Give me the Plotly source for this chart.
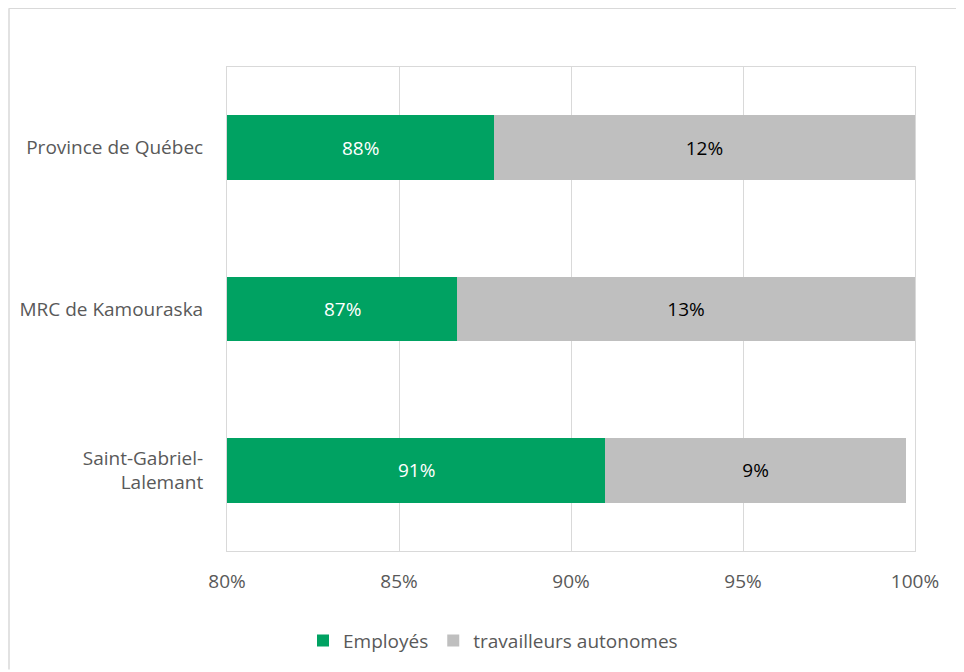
import plotly.graph_objects as go

categories = ["Province de Québec", "MRC de Kamouraska", "Saint-Gabriel-<br>Lalemant"]
employes = [87.76, 86.69, 90.99]
autonomes = [12.24, 13.31, 8.75]
tick_vals = [80, 85, 90, 95, 100]
tick_text = ["80%", "85%", "90%", "95%", "100%"]
axis_min, axis_max = 80, 100

FONT = "'Open Sans', sans-serif"
FS = 19
OFF = 8  # page body margin
W, H = 964 - OFF, 672 - OFF
ML, MT = 227 - OFF, 67 - OFF
MR, MB = 964 - 915, 672 - 553
pw, ph = W - ML - MR, H - MT - MB


def px2x(p):
    return (p - OFF - ML) / pw


def py2y(p):
    return (H - MB - (p - OFF)) / ph


fig = go.Figure()
fig.add_trace(go.Bar(
    y=categories, x=employes, orientation="h", name="Employés",
    marker=dict(color="#00A262", line=dict(width=0)),
    textposition="none", width=0.4,
))
fig.add_trace(go.Bar(
    y=categories, x=autonomes, orientation="h", name="travailleurs autonomes",
    marker=dict(color="#BFBFBF", line=dict(width=0)),
    texttemplate="%{x:.0f}%", textposition="inside", insidetextanchor="middle",
    textfont=dict(color="#000000", size=FS, family=FONT),
    width=0.4,
))

# labels for the green bars, centred in the visible part of each bar
annotations = []
for cat, val in zip(categories, employes):
    annotations.append(dict(
        x=(axis_min + val) / 2, y=cat, xref="x", yref="y",
        text=f"{round(val)}%", showarrow=False,
        font=dict(color="white", size=FS, family=FONT),
    ))

fig.update_layout(
    width=W, height=H,
    margin=dict(l=ML, r=MR, t=MT, b=MB, pad=0),
    barmode="stack",
    plot_bgcolor="white", paper_bgcolor="white",
    font=dict(family=FONT, size=FS, color="#595959"),
    uniformtext=dict(minsize=FS, mode="show"),
    xaxis=dict(range=[axis_min, axis_max], tickvals=tick_vals, ticktext=tick_text,
               showgrid=True, gridcolor="#D9D9D9", gridwidth=1,
               showline=True, linecolor="#D9D9D9", mirror=True,
               zeroline=False, ticks="outside", ticklen=13, tickcolor="rgba(0,0,0,0)",
               tickfont=dict(size=FS, color="#595959", family=FONT)),
    yaxis=dict(categoryorder="array", categoryarray=categories, autorange="reversed",
               showline=True, linecolor="#D9D9D9", mirror=True,
               showgrid=False, ticks="outside", ticklen=19, tickcolor="rgba(0,0,0,0)",
               tickfont=dict(size=FS, color="#595959", family=FONT)),
    legend=dict(orientation="h", x=px2x(493), xanchor="center",
                y=py2y(643), yanchor="middle",
                font=dict(size=FS, color="#595959", family=FONT),
                itemwidth=30, traceorder="normal"),
    showlegend=True,
    annotations=annotations,
    shapes=[
        dict(type="line", xref="paper", yref="paper",
             x0=px2x(9), x1=px2x(964), y0=py2y(8), y1=py2y(8),
             line=dict(color="#D9D9D9", width=1.5)),
        dict(type="line", xref="paper", yref="paper",
             x0=px2x(9), x1=px2x(9), y0=py2y(8), y1=py2y(672),
             line=dict(color="#D9D9D9", width=1.5)),
    ],
)

fig.write_html("out.html")
